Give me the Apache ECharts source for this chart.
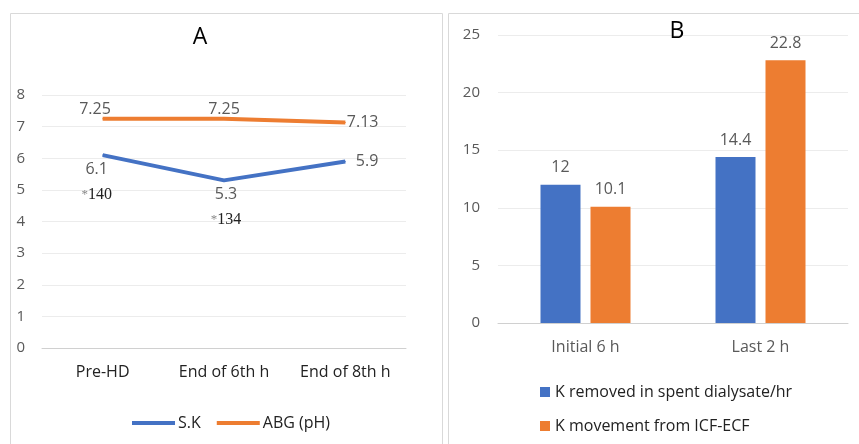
<!DOCTYPE html>
<html>
<head>
<meta charset="utf-8">
<script src="https://cdn.jsdelivr.net/npm/echarts@6/dist/echarts.min.js"></script>
<style>
  html, body { margin: 0; padding: 0; background: #fff; }
  #chart { width: 859px; height: 444px; }
</style>
</head>
<body>
<div id="chart"></div>
<script>
// Panel A: serum potassium and blood pH over the session
const timePoints = ['Pre-HD', 'End of 6th h', 'End of 8th h'];
const serumK = [6.1, 5.3, 5.9];
const bloodPH = [7.25, 7.25, 7.13];
const sodiumNotes = ['140', '134', ''];

// Panel B: potassium fluxes per period
const periods = ['Initial 6 h', 'Last 2 h'];
const kRemoved = [12, 14.4];
const kMovement = [10.1, 22.8];

const BLUE = '#4472C4';
const ORANGE = '#ED7D31';
const TXT = '#595959';
const FONT = 'Open Sans';

// per-point label placement
const skLabelPos = ['bottom', 'bottom', 'right'];
const skLabelShift = [[-6, 0], [2, 0], [5, 0]];
const phLabelPos = [[-23, -17], 'top', 'right'];

const skData = serumK.map((v, i) => ({
  value: v,
  label: { position: skLabelPos[i], offset: skLabelShift[i] }
}));
const phData = bloodPH.map((v, i) => ({
  value: v,
  label: { position: phLabelPos[i] }
}));

const chart = echarts.init(document.getElementById('chart'), null, { renderer: 'canvas' });

chart.setOption({
  animation: false,
  textStyle: { fontFamily: FONT },
  graphic: [
    { type: 'rect', shape: { x: 10.5, y: 13.5, width: 432, height: 440 },
      style: { fill: 'none', stroke: '#d9d9d9', lineWidth: 1 }, silent: true },
    { type: 'rect', shape: { x: 448.5, y: 13.5, width: 420, height: 440 },
      style: { fill: 'none', stroke: '#d9d9d9', lineWidth: 1 }, silent: true }
  ],
  title: [
    { text: 'A', left: 195, top: 21, textAlign: 'center',
      textStyle: { fontFamily: FONT, fontSize: 23, fontWeight: 'normal', color: '#000' } },
    { text: 'B', left: 672, top: 15, textAlign: 'center',
      textStyle: { fontFamily: FONT, fontSize: 23, fontWeight: 'normal', color: '#000' } }
  ],
  legend: [
    {
      data: ['S.K', 'ABG (pH)'],
      left: 127, top: 410,
      icon: 'rect', itemWidth: 43, itemHeight: 4, itemGap: 16,
      textStyle: { fontFamily: FONT, fontSize: 16, color: '#222', padding: [0, 0, 0, -2] }
    },
    {
      data: ['K removed in spent dialysate/hr', 'K movement from ICF-ECF'],
      orient: 'vertical',
      left: 535, top: 379,
      icon: 'rect', itemWidth: 10, itemHeight: 10, itemGap: 18,
      textStyle: { fontFamily: FONT, fontSize: 16, color: '#222' }
    }
  ],
  grid: [
    { left: 42, right: 453, top: 95, bottom: 96 },
    { left: 498, right: 11, top: 35, bottom: 121 }
  ],
  xAxis: [
    {
      gridIndex: 0, type: 'category', data: timePoints, boundaryGap: true,
      axisLine: { lineStyle: { color: '#d0d0d0' } },
      axisTick: { show: false },
      axisLabel: { color: '#222', fontSize: 16, margin: 16, fontFamily: FONT }
    },
    {
      gridIndex: 1, type: 'category', data: periods, boundaryGap: true,
      axisLine: { lineStyle: { color: '#d0d0d0' } },
      axisTick: { show: false },
      axisLabel: { color: TXT, fontSize: 16, margin: 16, fontFamily: FONT }
    }
  ],
  yAxis: [
    {
      gridIndex: 0, type: 'value', min: 0, max: 8, interval: 1,
      axisLine: { show: false }, axisTick: { show: false },
      splitLine: { lineStyle: { color: '#ececec' } },
      axisLabel: { color: TXT, fontSize: 15, margin: 17, fontFamily: FONT }
    },
    {
      gridIndex: 1, type: 'value', min: 0, max: 25, interval: 5,
      axisLine: { show: false }, axisTick: { show: false },
      splitLine: { lineStyle: { color: '#ececec' } },
      axisLabel: { color: TXT, fontSize: 15, margin: 18, fontFamily: FONT }
    }
  ],
  series: [
    {
      name: 'S.K', type: 'line', xAxisIndex: 0, yAxisIndex: 0,
      data: skData, symbol: 'circle', symbolSize: 1, showSymbol: true, smooth: false,
      lineStyle: { color: BLUE, width: 4 },
      itemStyle: { color: BLUE },
      label: {
        show: true, distance: 5,
        formatter: p => {
          const note = sodiumNotes[p.dataIndex];
          const v = '{v|' + p.value + '}';
          return note ? v + '\n{s|*}{n|' + note + '}' : v;
        },
        rich: {
          v: { color: TXT, fontSize: 16, lineHeight: 18, fontFamily: FONT },
          s: { color: '#888', fontSize: 13, lineHeight: 32, fontFamily: 'Liberation Serif' },
          n: { color: '#222', fontSize: 16, lineHeight: 32, fontFamily: 'Liberation Serif' }
        }
      }
    },
    {
      name: 'ABG (pH)', type: 'line', xAxisIndex: 0, yAxisIndex: 0,
      data: phData, symbol: 'circle', symbolSize: 1, showSymbol: true, smooth: false,
      lineStyle: { color: ORANGE, width: 4 },
      itemStyle: { color: ORANGE },
      label: { show: true, color: TXT, fontSize: 16, distance: 1, fontFamily: FONT }
    },
    {
      name: 'K removed in spent dialysate/hr', type: 'bar', xAxisIndex: 1, yAxisIndex: 1,
      data: kRemoved, barWidth: 40, barGap: '25%',
      itemStyle: { color: BLUE },
      label: { show: true, position: 'top', distance: 9, color: TXT, fontSize: 16, fontFamily: FONT }
    },
    {
      name: 'K movement from ICF-ECF', type: 'bar', xAxisIndex: 1, yAxisIndex: 1,
      data: kMovement, barWidth: 40, barGap: '25%',
      itemStyle: { color: ORANGE },
      label: { show: true, position: 'top', distance: 9, color: TXT, fontSize: 16, fontFamily: FONT }
    }
  ]
});
</script>
</body>
</html>
